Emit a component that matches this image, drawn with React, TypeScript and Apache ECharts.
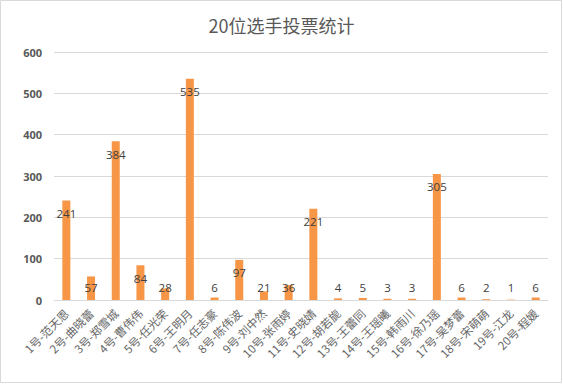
import React, { useEffect, useRef } from "react";
import * as echarts from "echarts";

const titleText = "20位选手投票统计";
const categories = [
  "1号-范天恩", "2号-曲晓蕾", "3号-郑雪城", "4号-曹伟伟", "5号-任光荣",
  "6号-王明月", "7号-任志豪", "8号-陈伟波", "9号-刘中然", "10号-张雨婷",
  "11号-史晓婧", "12号-胡若旎", "13号-王蕾同", "14号-王瑶曦", "15号-韩雨川",
  "16号-徐乃瑶", "17号-吴梦蕾", "18号-宋萌萌", "19号-江龙", "20号-程媛",
];
const votes = [241, 57, 384, 84, 28, 535, 6, 97, 21, 36, 221, 4, 5, 3, 3, 305, 6, 2, 1, 6];
const yTicks = { min: 0, max: 600, interval: 100 };

export default function App() {
  const ref = useRef<HTMLDivElement>(null);
  useEffect(() => {
    if (!ref.current) return;
    const chart = echarts.init(ref.current, null, { renderer: "svg" });
    const font = "'Noto Sans CJK SC', 'Noto Sans', sans-serif";
    chart.setOption({
      animation: false,
      backgroundColor: "#ffffff",
      title: {
        text: titleText,
        left: "center",
        top: 11,
        textStyle: { fontSize: 18, fontWeight: "normal", color: "#595959", fontFamily: font },
      },
      graphic: [
        {
          type: "rect",
          shape: { x: 0.5, y: 0.5, width: 561, height: 382 },
          style: { fill: "none", stroke: "#d9d9d9", lineWidth: 1 },
          silent: true,
        },
      ],
      grid: { left: 54, right: 15, top: 52, bottom: 85, containLabel: false },
      xAxis: {
        type: "category",
        data: categories,
        axisLine: { lineStyle: { color: "#d9d9d9" } },
        axisTick: { show: false },
        axisLabel: {
          rotate: 45,
          interval: 0,
          margin: 11,
          color: "#666666",
          fontSize: 11.5,
          fontFamily: font,
        },
      },
      yAxis: {
        type: "value",
        min: yTicks.min,
        max: yTicks.max,
        interval: yTicks.interval,
        axisLine: { show: false },
        axisTick: { show: false },
        splitLine: { lineStyle: { color: "#d9d9d9" } },
        axisLabel: {
          margin: 12,
          color: "#595959",
          fontSize: 11,
          fontWeight: "bold",
          fontFamily: "'Open Sans', sans-serif",
        },
      },
      series: [
        {
          type: "bar",
          barWidth: 8,
          itemStyle: { color: "#f79646" },
          data: votes.map((v) => ({
            value: v,
            label: { position: v < 68 ? "insideBottom" : "insideTop" },
          })),
          label: {
            show: true,
            distance: 7,
            color: "#404040",
            fontSize: 11.5,
            fontFamily: "'Open Sans', sans-serif",
          },
        },
      ],
    });
    return () => chart.dispose();
  }, []);
  return (
    <div
      ref={ref}
      style={{ position: "fixed", left: 0, top: 0, width: 563, height: 385 }}
    />
  );
}
